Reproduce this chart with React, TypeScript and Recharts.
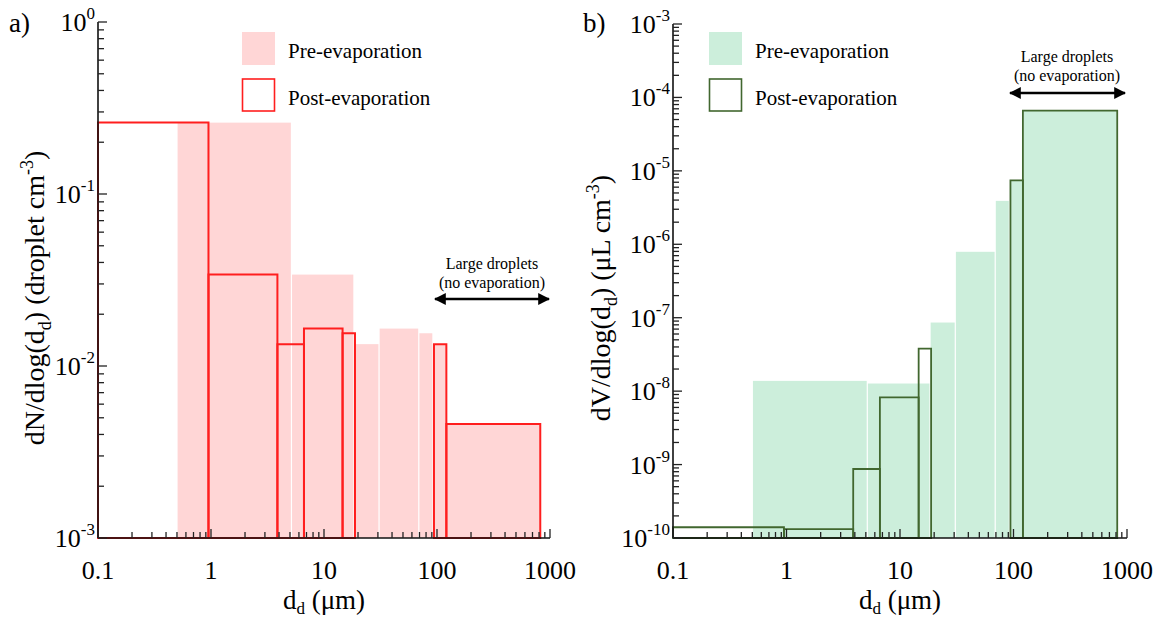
import React from 'react';
import { ComposedChart, XAxis, YAxis, ReferenceArea, Scatter } from 'recharts';

// bin edges (µm) and heights
const preLo = [0.5, 5.15, 18.4, 30.7, 69, 92, 121];
const preHi = [5.15, 18.4, 30.7, 69, 92, 121, 820];
const postLo = [0.1, 0.95, 3.87, 6.65, 14.6, 94, 121];
const postHi = [0.95, 3.87, 6.65, 14.6, 18.8, 121, 820];

// a) number distribution dN/dlog(dd)
const preNumber = [0.26, 0.034, 0.0134, 0.0165, 0.0155, 0.0134, 0.0046];
const postNumber = [0.26, 0.034, 0.0134, 0.0165, 0.0155, 0.0134, 0.0046];

// b) volume distribution dV/dlog(dd)
const preVolume = [1.38e-8, 1.27e-8, 8.6e-8, 7.9e-7, 3.9e-6, 7.4e-6, 6.6e-5];
const postVolume = [1.4e-10, 1.32e-10, 8.7e-10, 8.2e-9, 3.8e-8, 7.4e-6, 6.6e-5];

const xMajor = [0.1, 1, 10, 100, 1000];

const FONT = '"Liberation Serif", "Times New Roman", serif';
const PINK = '#ffd6d6';
const RED = '#ff1e1e';
const MINT = '#cceedb';
const DKGREEN = '#41672f';

function logTicks(minExp: number, maxExp: number) {
    const t: number[] = [];
    for (let e = minExp; e < maxExp; e++) {
        for (let m = 1; m <= 9; m++) t.push(Number((m * Math.pow(10, e)).toPrecision(6)));
    }
    t.push(Math.pow(10, maxExp));
    return t;
}

const isMajor = (v: number) => Math.abs(Math.log10(v) - Math.round(Math.log10(v))) < 1e-6;

const XTick = (props: any) => {
    const { x, y, payload } = props;
    const v = payload.value;
    const major = isMajor(v);
    return (
        <g>
            <line x1={x} x2={x} y1={y} y2={y - (major ? 9 : 6)} stroke="#222" strokeWidth={1.3} />
            {major && (
                <text x={x} y={y + 41} textAnchor="middle" fontSize={26} fontFamily={FONT} fill="#000">
                    {xMajor.includes(v) ? String(v) : ''}
                </text>
            )}
        </g>
    );
};

const YTick = (props: any) => {
    const { x, y, payload } = props;
    const v = payload.value;
    const major = isMajor(v);
    const exp = Math.round(Math.log10(v));
    return (
        <g>
            <line x1={x} x2={x + (major ? 9 : 6)} y1={y} y2={y} stroke="#222" strokeWidth={1.3} />
            {major && (
                <text x={x - 3} y={y + 9} textAnchor="end" fontSize={26} fontFamily={FONT} fill="#000">
                    <tspan>10</tspan>
                    <tspan dy={-12} fontSize={17}>{String(exp)}</tspan>
                </text>
            )}
        </g>
    );
};

const FillShape = (color: string) => (p: any) => (
    <rect x={p.x + 0.6} y={p.y} width={Math.max(0, p.width - 1.2)} height={p.height} fill={color} />
);

interface PanelProps {
    pre: number[];
    post: number[];
    yMinExp: number;
    yMaxExp: number;
    fill: string;
    stroke: string;
    strokeWidth: number;
    margin: { top: number; right: number; bottom: number; left: number };
    width: number;
}

function Panel({ pre, post, yMinExp, yMaxExp, fill, stroke, strokeWidth, margin, width }: PanelProps) {
    const yMin = Math.pow(10, yMinExp);
    const pts = preLo.map((lo, i) => ({ x: lo, y: pre[i] }));
    return (
        <ComposedChart width={width} height={620} margin={margin}>
            <XAxis
                type="number"
                dataKey="x"
                scale="log"
                domain={[0.1, 1000]}
                allowDataOverflow
                ticks={logTicks(-1, 3)}
                interval={0}
                tick={<XTick />}
                tickLine={false}
                tickSize={0}
                tickMargin={0}
                height={60}
                axisLine={{ stroke: '#111', strokeWidth: 1.6 }}
            />
            <YAxis
                type="number"
                dataKey="y"
                scale="log"
                domain={[yMin, Math.pow(10, yMaxExp)]}
                allowDataOverflow
                ticks={logTicks(yMinExp, yMaxExp)}
                interval={0}
                tick={<YTick />}
                tickLine={false}
                tickSize={0}
                tickMargin={0}
                width={60}
                axisLine={{ stroke: '#111', strokeWidth: 1.6 }}
            />
            <Scatter data={pts} isAnimationActive={false} shape={() => <g />} />
            {preLo.map((lo, i) => (
                <ReferenceArea
                    key={'pre' + i}
                    x1={lo}
                    x2={preHi[i]}
                    y1={yMin}
                    y2={pre[i]}
                    ifOverflow="hidden"
                    shape={FillShape(fill)}
                />
            ))}
            {postLo.map((lo, i) => (
                <ReferenceArea
                    key={'post' + i}
                    x1={lo}
                    x2={postHi[i]}
                    y1={yMin}
                    y2={post[i]}
                    ifOverflow="visible"
                    fill="none"
                    fillOpacity={0}
                    stroke={stroke}
                    strokeWidth={strokeWidth}
                    strokeOpacity={1}
                />
            ))}
        </ComposedChart>
    );
}

const txt = { fontFamily: FONT, fill: '#000' } as const;

function Overlay() {
    return (
        <svg width={1158} height={620} style={{ position: 'absolute', left: 0, top: 0, pointerEvents: 'none' }}>
            {/* panel letters */}
            <text x={9} y={32} fontSize={27} {...txt}>a)</text>
            <text x={583} y={32} fontSize={27} {...txt}>b)</text>

            {/* legend a */}
            <rect x={242} y={32} width={33} height={33} fill={PINK} />
            <text x={288} y={58} fontSize={21} {...txt}>Pre-evaporation</text>
            <rect x={242.5} y={79} width={32} height={32} fill="none" stroke={RED} strokeWidth={1.6} />
            <text x={288} y={105} fontSize={21} {...txt}>Post-evaporation</text>

            {/* legend b */}
            <rect x={709} y={32} width={33} height={33} fill={MINT} />
            <text x={755} y={58} fontSize={21} {...txt}>Pre-evaporation</text>
            <rect x={709.5} y={79} width={32} height={32} fill="none" stroke={DKGREEN} strokeWidth={1.6} />
            <text x={755} y={105} fontSize={21} {...txt}>Post-evaporation</text>

            {/* large droplets annotations */}
            <defs>
                <marker id="ah" viewBox="0 0 10 10" refX="9" refY="5" markerWidth="5" markerHeight="5" orient="auto-start-reverse">
                    <path d="M0,0 L10,5 L0,10 z" fill="#000" />
                </marker>
            </defs>
            <text x={492} y={269} fontSize={16} textAnchor="middle" {...txt}>Large droplets</text>
            <text x={492} y={288} fontSize={16} textAnchor="middle" {...txt}>(no evaporation)</text>
            <line x1={435} x2={549} y1={299} y2={299} stroke="#000" strokeWidth={2.4} markerStart="url(#ah)" markerEnd="url(#ah)" />

            <text x={1067} y={62} fontSize={16} textAnchor="middle" {...txt}>Large droplets</text>
            <text x={1067} y={81} fontSize={16} textAnchor="middle" {...txt}>(no evaporation)</text>
            <line x1={1010} x2={1125} y1={93} y2={93} stroke="#000" strokeWidth={2.4} markerStart="url(#ah)" markerEnd="url(#ah)" />

            {/* axis titles */}
            <text x={324} y={609} fontSize={27} textAnchor="middle" {...txt}>
                <tspan>d</tspan><tspan dy={5} fontSize={17}>d</tspan><tspan dy={-5}> (μm)</tspan>
            </text>
            <text x={900} y={609} fontSize={27} textAnchor="middle" {...txt}>
                <tspan>d</tspan><tspan dy={5} fontSize={17}>d</tspan><tspan dy={-5}> (μm)</tspan>
            </text>
            <text transform="translate(44,298) rotate(-90)" fontSize={28} textAnchor="middle" {...txt}>
                <tspan>dN/dlog(d</tspan><tspan dy={7} fontSize={18}>d</tspan>
                <tspan dy={-7}>) (droplet cm</tspan><tspan dy={-11} fontSize={18}>-3</tspan><tspan dy={11}>)</tspan>
            </text>
            <text transform="translate(610,298) rotate(-90)" fontSize={28} textAnchor="middle" {...txt}>
                <tspan>dV/dlog(d</tspan><tspan dy={7} fontSize={18}>d</tspan>
                <tspan dy={-7}>) (μL cm</tspan><tspan dy={-11} fontSize={18}>-3</tspan><tspan dy={11}>)</tspan>
            </text>
        </svg>
    );
}

export default function App() {
    return (
        <div style={{ position: 'absolute', left: 0, top: 0, width: 1158, height: 620, background: '#fff', fontFamily: FONT }}>
            <div style={{ position: 'absolute', left: 0, top: 0 }}>
                <Panel
                    pre={preNumber}
                    post={postNumber}
                    yMinExp={-3}
                    yMaxExp={0}
                    fill={PINK}
                    stroke={RED}
                    strokeWidth={2}
                    width={580}
                    margin={{ top: 22, right: 30, bottom: 22, left: 38 }}
                />
            </div>
            <div style={{ position: 'absolute', left: 580, top: 0 }}>
                <Panel
                    pre={preVolume}
                    post={postVolume}
                    yMinExp={-10}
                    yMaxExp={-3}
                    fill={MINT}
                    stroke={DKGREEN}
                    strokeWidth={1.8}
                    width={578}
                    margin={{ top: 24, right: 31, bottom: 22, left: 33 }}
                />
            </div>
            <Overlay />
        </div>
    );
}
